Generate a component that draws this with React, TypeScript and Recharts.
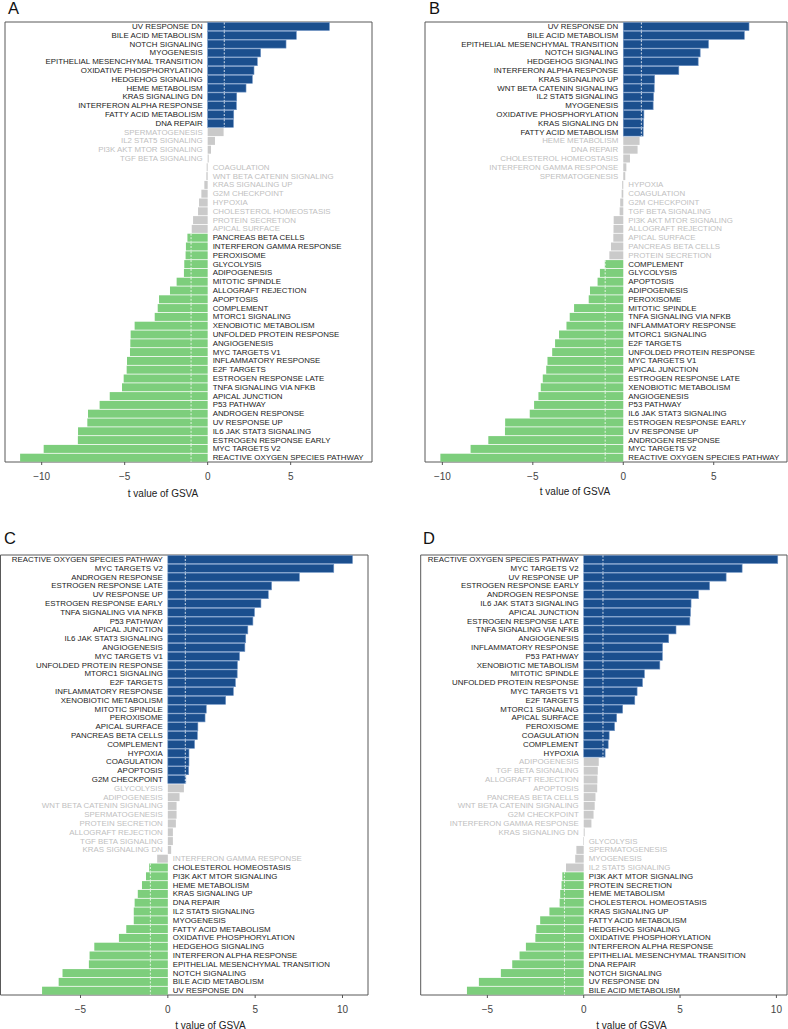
import React from 'react';
import { BarChart, Bar, XAxis, YAxis, ReferenceArea } from 'recharts';

const FONT = '"Liberation Sans", Arial, Helvetica, sans-serif';
const BLUE = '#1b4f8e';
const BLUE_EDGE = '#6d92c3';
const GREEN = '#7dce7c';
const GRAY = '#cacaca';
const DARK_TEXT = '#222222';
const LIGHT_TEXT = '#c0c0c0';
const THRESHOLD = 1;

// ---------- Panel A ----------
const namesA = [
  'UV RESPONSE DN', 'BILE ACID METABOLISM', 'NOTCH SIGNALING', 'MYOGENESIS',
  'EPITHELIAL MESENCHYMAL TRANSITION', 'OXIDATIVE PHOSPHORYLATION', 'HEDGEHOG SIGNALING',
  'HEME METABOLISM', 'KRAS SIGNALING DN', 'INTERFERON ALPHA RESPONSE', 'FATTY ACID METABOLISM',
  'DNA REPAIR', 'SPERMATOGENESIS', 'IL2 STAT5 SIGNALING', 'PI3K AKT MTOR SIGNALING',
  'TGF BETA SIGNALING', 'COAGULATION', 'WNT BETA CATENIN SIGNALING', 'KRAS SIGNALING UP',
  'G2M CHECKPOINT', 'HYPOXIA', 'CHOLESTEROL HOMEOSTASIS', 'PROTEIN SECRETION', 'APICAL SURFACE',
  'PANCREAS BETA CELLS', 'INTERFERON GAMMA RESPONSE', 'PEROXISOME', 'GLYCOLYSIS', 'ADIPOGENESIS',
  'MITOTIC SPINDLE', 'ALLOGRAFT REJECTION', 'APOPTOSIS', 'COMPLEMENT', 'MTORC1 SIGNALING',
  'XENOBIOTIC METABOLISM', 'UNFOLDED PROTEIN RESPONSE', 'ANGIOGENESIS', 'MYC TARGETS V1',
  'INFLAMMATORY RESPONSE', 'E2F TARGETS', 'ESTROGEN RESPONSE LATE', 'TNFA SIGNALING VIA NFKB',
  'APICAL JUNCTION', 'P53 PATHWAY', 'ANDROGEN RESPONSE', 'UV RESPONSE UP', 'IL6 JAK STAT3 SIGNALING',
  'ESTROGEN RESPONSE EARLY', 'MYC TARGETS V2', 'REACTIVE OXYGEN SPECIES PATHWAY',
];
const valuesA = [
  7.33, 5.34, 4.72, 3.19, 2.99, 2.79, 2.69, 2.31, 1.75, 1.73, 1.57, 1.55,
  0.96, 0.44, 0.2, 0.06, -0.06, -0.08, -0.2, -0.38, -0.52, -0.58, -0.88, -0.96,
  -1.22, -1.31, -1.33, -1.41, -1.43, -1.87, -2.27, -2.93, -3.01, -3.19, -4.4, -4.64,
  -4.66, -4.68, -4.86, -4.88, -5.06, -5.16, -5.9, -6.51, -7.21, -7.25, -7.81, -7.82,
  -9.88, -11.3,
];
const ticksA = [-10, -5, 0, 5];

// ---------- Panel B ----------
const namesB = [
  'UV RESPONSE DN', 'BILE ACID METABOLISM', 'EPITHELIAL MESENCHYMAL TRANSITION', 'NOTCH SIGNALING',
  'HEDGEHOG SIGNALING', 'INTERFERON ALPHA RESPONSE', 'KRAS SIGNALING UP', 'WNT BETA CATENIN SIGNALING',
  'IL2 STAT5 SIGNALING', 'MYOGENESIS', 'OXIDATIVE PHOSPHORYLATION', 'KRAS SIGNALING DN',
  'FATTY ACID METABOLISM', 'HEME METABOLISM', 'DNA REPAIR', 'CHOLESTEROL HOMEOSTASIS',
  'INTERFERON GAMMA RESPONSE', 'SPERMATOGENESIS', 'HYPOXIA', 'COAGULATION', 'G2M CHECKPOINT',
  'TGF BETA SIGNALING', 'PI3K AKT MTOR SIGNALING', 'ALLOGRAFT REJECTION', 'APICAL SURFACE',
  'PANCREAS BETA CELLS', 'PROTEIN SECRETION', 'COMPLEMENT', 'GLYCOLYSIS', 'APOPTOSIS',
  'ADIPOGENESIS', 'PEROXISOME', 'MITOTIC SPINDLE', 'TNFA SIGNALING VIA NFKB', 'INFLAMMATORY RESPONSE',
  'MTORC1 SIGNALING', 'E2F TARGETS', 'UNFOLDED PROTEIN RESPONSE', 'MYC TARGETS V1', 'APICAL JUNCTION',
  'ESTROGEN RESPONSE LATE', 'XENOBIOTIC METABOLISM', 'ANGIOGENESIS', 'P53 PATHWAY',
  'IL6 JAK STAT3 SIGNALING', 'ESTROGEN RESPONSE EARLY', 'UV RESPONSE UP', 'ANDROGEN RESPONSE',
  'MYC TARGETS V2', 'REACTIVE OXYGEN SPECIES PATHWAY',
];
const valuesB = [
  6.95, 6.69, 4.71, 4.25, 4.14, 3.07, 1.73, 1.71, 1.67, 1.65, 1.14, 1.12, 1.1,
  0.9, 0.79, 0.37, 0.17, 0.11, -0.06, -0.09, -0.17, -0.2, -0.53, -0.54, -0.55, -0.68, -0.77,
  -1.02, -1.29, -1.42, -1.84, -1.91, -2.72, -2.96, -3.14, -3.55, -3.77, -3.93, -4.19, -4.26,
  -4.45, -4.56, -4.69, -4.93, -5.17, -6.53, -6.54, -7.46, -8.44, -10.11,
];
const ticksB = [-10, -5, 0, 5];

// ---------- Panel C ----------
const namesC = [
  'REACTIVE OXYGEN SPECIES PATHWAY', 'MYC TARGETS V2', 'ANDROGEN RESPONSE', 'ESTROGEN RESPONSE LATE',
  'UV RESPONSE UP', 'ESTROGEN RESPONSE EARLY', 'TNFA SIGNALING VIA NFKB', 'P53 PATHWAY',
  'APICAL JUNCTION', 'IL6 JAK STAT3 SIGNALING', 'ANGIOGENESIS', 'MYC TARGETS V1',
  'UNFOLDED PROTEIN RESPONSE', 'MTORC1 SIGNALING', 'E2F TARGETS', 'INFLAMMATORY RESPONSE',
  'XENOBIOTIC METABOLISM', 'MITOTIC SPINDLE', 'PEROXISOME', 'APICAL SURFACE', 'PANCREAS BETA CELLS',
  'COMPLEMENT', 'HYPOXIA', 'COAGULATION', 'APOPTOSIS', 'G2M CHECKPOINT', 'GLYCOLYSIS', 'ADIPOGENESIS',
  'WNT BETA CATENIN SIGNALING', 'SPERMATOGENESIS', 'PROTEIN SECRETION', 'ALLOGRAFT REJECTION',
  'TGF BETA SIGNALING', 'KRAS SIGNALING DN', 'INTERFERON GAMMA RESPONSE', 'CHOLESTEROL HOMEOSTASIS',
  'PI3K AKT MTOR SIGNALING', 'HEME METABOLISM', 'KRAS SIGNALING UP', 'DNA REPAIR', 'IL2 STAT5 SIGNALING',
  'MYOGENESIS', 'FATTY ACID METABOLISM', 'OXIDATIVE PHOSPHORYLATION', 'HEDGEHOG SIGNALING',
  'INTERFERON ALPHA RESPONSE', 'EPITHELIAL MESENCHYMAL TRANSITION', 'NOTCH SIGNALING',
  'BILE ACID METABOLISM', 'UV RESPONSE DN',
];
const valuesC = [
  10.57, 9.5, 7.53, 5.94, 5.75, 5.33, 4.96, 4.87, 4.58, 4.46, 4.41, 4.1, 3.98, 3.97, 3.87, 3.75,
  3.31, 2.2, 2.13, 1.72, 1.69, 1.53, 1.21, 1.21, 1.19, 1.03, 0.92, 0.67, 0.5, 0.5, 0.46, 0.29,
  0.29, 0.19, -0.61, -1.07, -1.25, -1.48, -1.72, -1.9, -1.95, -1.95, -2.38, -2.8, -4.21, -4.48,
  -4.52, -6.03, -6.25, -7.2,
];
const ticksC = [-5, 0, 5, 10];

// ---------- Panel D ----------
const namesD = [
  'REACTIVE OXYGEN SPECIES PATHWAY', 'MYC TARGETS V2', 'UV RESPONSE UP', 'ESTROGEN RESPONSE EARLY',
  'ANDROGEN RESPONSE', 'IL6 JAK STAT3 SIGNALING', 'APICAL JUNCTION', 'ESTROGEN RESPONSE LATE',
  'TNFA SIGNALING VIA NFKB', 'ANGIOGENESIS', 'INFLAMMATORY RESPONSE', 'P53 PATHWAY',
  'XENOBIOTIC METABOLISM', 'MITOTIC SPINDLE', 'UNFOLDED PROTEIN RESPONSE', 'MYC TARGETS V1',
  'E2F TARGETS', 'MTORC1 SIGNALING', 'APICAL SURFACE', 'PEROXISOME', 'COAGULATION', 'COMPLEMENT',
  'HYPOXIA', 'ADIPOGENESIS', 'TGF BETA SIGNALING', 'ALLOGRAFT REJECTION', 'APOPTOSIS',
  'PANCREAS BETA CELLS', 'WNT BETA CATENIN SIGNALING', 'G2M CHECKPOINT', 'INTERFERON GAMMA RESPONSE',
  'KRAS SIGNALING DN', 'GLYCOLYSIS', 'SPERMATOGENESIS', 'MYOGENESIS', 'IL2 STAT5 SIGNALING',
  'PI3K AKT MTOR SIGNALING', 'PROTEIN SECRETION', 'HEME METABOLISM', 'CHOLESTEROL HOMEOSTASIS',
  'KRAS SIGNALING UP', 'FATTY ACID METABOLISM', 'HEDGEHOG SIGNALING', 'OXIDATIVE PHOSPHORYLATION',
  'INTERFERON ALPHA RESPONSE', 'EPITHELIAL MESENCHYMAL TRANSITION', 'DNA REPAIR', 'NOTCH SIGNALING',
  'UV RESPONSE DN', 'BILE ACID METABOLISM',
];
const valuesD = [
  10.07, 8.22, 7.39, 6.53, 5.96, 5.57, 5.54, 5.51, 4.79, 4.41, 4.09, 4.08, 3.95, 3.15, 3.05, 2.77,
  2.65, 2.02, 1.71, 1.6, 1.32, 1.27, 1.11, 0.78, 0.73, 0.71, 0.7, 0.61, 0.57, 0.51, 0.4, 0.05,
  -0.03, -0.38, -0.44, -0.92, -1.11, -1.15, -1.22, -1.25, -1.78, -2.26, -2.46, -2.51, -3.0, -3.33,
  -3.71, -4.3, -5.44, -6.06,
];
const ticksD = [-5, 0, 5, 10];

type Row = { name: string; t: number };

const BarShape = (props: any) => {
  const { x, y, width, height, payload } = props;
  if (payload == null) return null;
  const t: number = payload.t;
  const left = Math.min(x, x + width);
  const w = Math.abs(width);
  const zeroX = t >= 0 ? left : left + w;
  const sig = t > THRESHOLD ? 1 : t < -THRESHOLD ? -1 : 0;
  const fill = sig === 1 ? BLUE : sig === -1 ? GREEN : GRAY;
  const pxPerUnit = Math.abs(t) > 0 ? w / Math.abs(t) : 0;
  const dashX = sig === 0 ? null : zeroX + sig * THRESHOLD * pxPerUnit;
  const cy = y + height / 2;
  return (
    <g>
      <rect
        x={left}
        y={y}
        width={w}
        height={height}
        fill={fill}
        stroke={sig === 1 ? BLUE_EDGE : 'none'}
        strokeWidth={sig === 1 ? 0.6 : 0}
      />
      {dashX !== null && (
        <line
          x1={dashX}
          x2={dashX}
          y1={y}
          y2={y + height}
          stroke="#ffffff"
          strokeWidth={0.8}
          strokeDasharray="2 1.5"
        />
      )}
      <text
        x={t >= 0 ? zeroX - 5 : zeroX + 5}
        y={cy}
        textAnchor={t >= 0 ? 'end' : 'start'}
        dominantBaseline="central"
        fontFamily={FONT}
        fontSize={7.9}
        fill={sig === 0 ? LIGHT_TEXT : DARK_TEXT}
      >
        {payload.name}
      </text>
    </g>
  );
};

const fmt = (v: number) => (v < 0 ? `\u2212${-v}` : `${v}`);

type PanelProps = {
  names: string[];
  values: number[];
  ticks: number[];
  domain: [number, number];
  left: number;
  top: number;
  width: number;
  height: number;
  margin: { top: number; right: number; left: number; bottom: number };
  axisHeight: number;
};

const Panel = ({ names, values, ticks, domain, left, top, width, height, margin, axisHeight }: PanelProps) => {
  const data: Row[] = names.map((name, i) => ({ name, t: values[i] }));
  return (
    <div style={{ position: 'absolute', left, top, width, height }}>
      <BarChart
        width={width}
        height={height}
        data={data}
        layout="vertical"
        margin={margin}
        barCategoryGap={0.5}
      >
        <XAxis
          type="number"
          domain={domain}
          ticks={ticks}
          allowDataOverflow
          axisLine={false}
          tickLine={{ stroke: '#555555' }}
          tickSize={3}
          tickMargin={8}
          height={axisHeight}
          tickFormatter={fmt}
          tick={{ fontSize: 10, fill: '#444444', fontFamily: FONT }}
        />
        <YAxis type="category" dataKey="name" hide />
        <Bar dataKey="t" isAnimationActive={false} shape={BarShape} />
        <ReferenceArea
          x1={domain[0]}
          x2={domain[1]}
          fill="none"
          fillOpacity={0}
          stroke="#595959"
          strokeWidth={1}
          ifOverflow="visible"
        />
      </BarChart>
    </div>
  );
};

const letters = [
  { text: 'A', x: 8, y: 14 },
  { text: 'B', x: 429, y: 13.5 },
  { text: 'C', x: 4, y: 544 },
  { text: 'D', x: 423, y: 544 },
];
const axisTitles = [
  { x: 163, y: 496.5 },
  { x: 575, y: 495 },
  { x: 210.5, y: 1028.5 },
  { x: 631.5, y: 1028.5 },
];
const AXIS_TITLE = 't value of GSVA';

export default function App() {
  return (
    <div
      style={{
        position: 'absolute',
        left: 0,
        top: 0,
        width: 788,
        height: 1029,
        background: '#ffffff',
        overflow: 'hidden',
      }}
    >
      <Panel
        names={namesA}
        values={valuesA}
        ticks={ticksA}
        domain={[-12.21, 9.9]}
        left={0}
        top={0}
        width={394}
        height={515}
        margin={{ top: 22, right: 22, left: 5, bottom: 0 }}
        axisHeight={53}
      />
      <Panel
        names={namesB}
        values={valuesB}
        ticks={ticksB}
        domain={[-10.96, 9.05]}
        left={394}
        top={0}
        width={394}
        height={515}
        margin={{ top: 22, right: 1, left: 31, bottom: 0 }}
        axisHeight={53}
      />
      <Panel
        names={namesC}
        values={valuesC}
        ticks={ticksC}
        domain={[-9.58, 11.46]}
        left={0}
        top={515}
        width={394}
        height={514}
        margin={{ top: 40, right: 26, left: 0.5, bottom: 0 }}
        axisHeight={34}
      />
      <Panel
        names={namesD}
        values={valuesD}
        ticks={ticksD}
        domain={[-8.46, 10.55]}
        left={394}
        top={515}
        width={394}
        height={514}
        margin={{ top: 40, right: 1, left: 26.7, bottom: 0 }}
        axisHeight={34}
      />
      <svg
        width={788}
        height={1029}
        style={{ position: 'absolute', left: 0, top: 0, pointerEvents: 'none' }}
      >
        {letters.map((l) => (
          <text key={l.text} x={l.x} y={l.y} fontFamily={FONT} fontSize={16.5} fill="#111111">
            {l.text}
          </text>
        ))}
        {axisTitles.map((a, i) => (
          <text
            key={i}
            x={a.x}
            y={a.y}
            textAnchor="middle"
            fontFamily={FONT}
            fontSize={10}
            fill="#222222"
          >
            {AXIS_TITLE}
          </text>
        ))}
      </svg>
    </div>
  );
}
